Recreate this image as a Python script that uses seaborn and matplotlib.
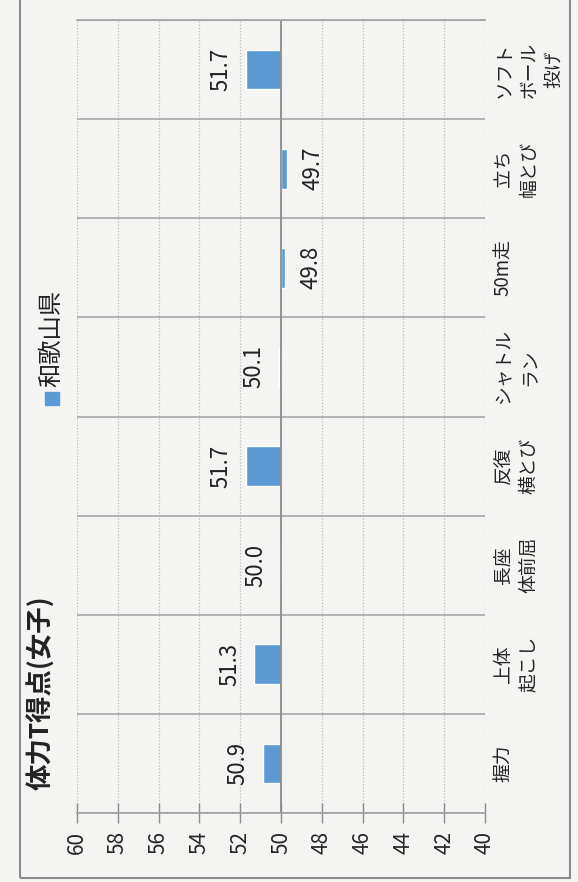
import pandas as pd
import matplotlib.pyplot as plt
from matplotlib.patches import Rectangle
import seaborn as sns

# chart data (the chart is printed turned a quarter turn to the left)
events = ["握力", "上体\n起こし", "長座\n体前屈", "反復\n横とび",
          "シャトル\nラン", "50m走", "立ち\n幅とび", "ソフト\nボール\n投げ"]
scores = [50.9, 51.3, 50.0, 51.7, 50.1, 49.8, 49.7, 51.7]
base = 50
tick_values = [40, 42, 44, 46, 48, 50, 52, 54, 56, 58, 60]
title = "体力T得点(女子)"
series_name = "和歌山県"
bar_color = "#5b9bd5"
paper = "#f4f4f2"

df = pd.DataFrame({"event": events, "diff": [s - base for s in scores]})

sns.set_theme(style="white")
plt.rcParams["font.family"] = ["Noto Sans CJK JP", "DejaVu Sans"]
plt.rcParams["text.color"] = "#222222"

W, H = 578, 882
fig = plt.figure(figsize=(W / 100, H / 100), dpi=100, facecolor=paper)
ax = fig.add_axes([77 / W, 1 - 813 / H, 408 / W, 793 / H])
ax.set_facecolor(paper)

sns.barplot(data=df, x="diff", y="event", orient="h", color=bar_color,
            saturation=1, width=0.4, ax=ax)

# value axis runs 60 (left) -> 40 (right), bars grow from 50
ax.set_xlim(max(tick_values) - base, min(tick_values) - base)
ax.set_ylim(-0.5, len(events) - 0.5)
ax.set_xticks([t - base for t in tick_values])
ax.set_xticklabels([str(t) for t in tick_values], rotation=90)
ax.set_xlabel("")
ax.set_ylabel("")

# category labels on the right, turned like the rest
ax.yaxis.tick_right()
ax.set_yticks(range(len(events)))
ax.set_yticklabels(events, rotation=90, ha="left", va="center",
                   multialignment="center", linespacing=1.28)
ax.tick_params(axis="y", which="both", length=0, pad=6, labelsize=13.5,
               labelright=True, labelleft=False)
ax.tick_params(axis="x", bottom=True, direction="inout", length=14,
               width=1, color="#8c8c8c", labelsize=15, pad=6)

# grid: dotted value lines, solid category separators
ax.grid(axis="x", linestyle=(0, (1, 1.5)), color="#bcbcbc", lw=0.9)
ax.set_yticks([i - 0.5 for i in range(len(events) + 1)], minor=True)
ax.grid(axis="y", which="minor", color="#a8a8a8", lw=1.2, ls="-")
ax.grid(axis="y", which="major", visible=False)
ax.axvline(0, color="#8c8c8c", lw=1.3)
ax.set_axisbelow(True)

for side in ["left", "right"]:
    ax.spines[side].set_visible(False)
for side in ["top", "bottom"]:
    ax.spines[side].set_color("#a0a0a0")
    ax.spines[side].set_linewidth(1.2)

# value labels outside the bar ends
for i, (s, d) in enumerate(zip(scores, df["diff"])):
    off = -25 if d >= 0 else 26
    ax.annotate(f"{s:.1f}", xy=(d, i), xytext=(off, 0), textcoords="offset pixels",
                rotation=90, ha="center", va="center", fontsize=16)

# title and legend
fig.text(41 / W, 1 - 790 / H, title, rotation=90, ha="center", va="bottom",
         fontsize=19, fontweight="bold")
fig.text(51 / W, 1 - 387 / H, series_name, rotation=90, ha="center", va="bottom",
         fontsize=17.5)
fig.patches.append(Rectangle((45 / W, 1 - 405 / H), 14 / W, 13 / H,
                             transform=fig.transFigure, color=bar_color))

# outer frame
fig.patches.append(Rectangle((20 / W, 4 / H), 550 / W, 1.0, fill=False,
                             edgecolor="#8a8a8a", lw=1.5,
                             transform=fig.transFigure))

fig.savefig("out.png", dpi=100, facecolor=fig.get_facecolor())
